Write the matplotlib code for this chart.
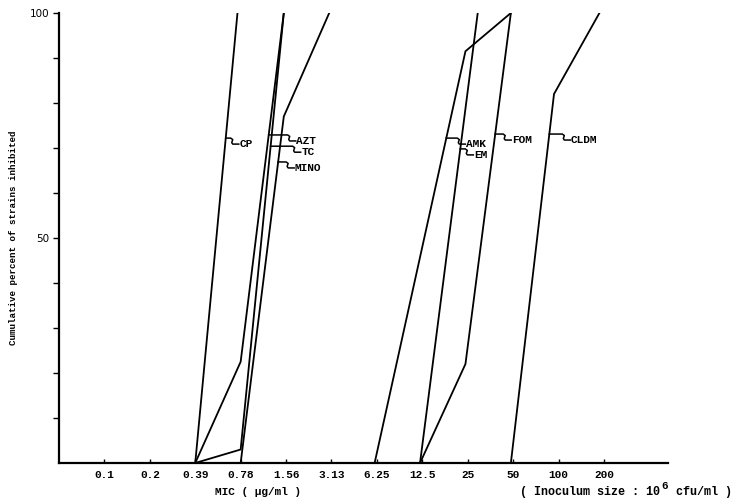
import numpy as np
import matplotlib
matplotlib.use("Agg")
import matplotlib.pyplot as plt

MONO = "Liberation Mono"

# MIC scale (two-fold dilutions), drawn at positions 1..12
conc_labels = ["0.1", "0.2", "0.39", "0.78", "1.56", "3.13",
               "6.25", "12.5", "25", "50", "100", "200"]
conc_pos = list(range(1, len(conc_labels) + 1))

# cumulative % of strains inhibited, x given as dilution position
cp_x = [3, 3.93]
cp_y = [0, 100]
azt_x = [3, 4, 4.95]
azt_y = [0, 22.5, 100]
tc_x = [3, 4, 4.95]
tc_y = [0, 3, 100]
mino_x = [4, 4.95, 5.95]
mino_y = [0, 77, 100]
amk_x = [6.95, 8.95, 9.95]
amk_y = [0, 91.5, 100]
em_x = [7.95, 9.22]
em_y = [0, 100]
fom_x = [7.95, 8.95, 9.95]
fom_y = [0, 22, 100]
cldm_x = [9.95, 10.9, 11.9]
cldm_y = [0, 82, 100]

W, H = 742, 504
fig = plt.figure(figsize=(W / 100, H / 100), dpi=100)
ax_l, ax_b, ax_w, ax_h = 59, 41, 609, 450
ax = fig.add_axes([ax_l / W, ax_b / H, ax_w / W, ax_h / H])
XMAX = 13.41
ax.set_xlim(0, XMAX)
ax.set_ylim(0, 100)

# px -> data conversion for the label leaders
kx = XMAX / ax_w
ky = 100 / ax_h

series = [
    (cp_x, cp_y, "CP", 72.2, 13),
    (azt_x, azt_y, "AZT", 72.9, 27),
    (tc_x, tc_y, "TC", 70.4, 30),
    (mino_x, mino_y, "MINO", 66.9, 16),
    (amk_x, amk_y, "AMK", 72.2, 19),
    (em_x, em_y, "EM", 69.8, 13),
    (fom_x, fom_y, "FOM", 73.1, 16),
    (cldm_x, cldm_y, "CLDM", 73.1, 21),
]

for xs, ys, name, y_at, dx_end in series:
    ax.plot(xs, ys, color="black", lw=1.3, solid_joinstyle="miter")
    x0 = np.interp(y_at, ys, xs)
    dx_mid = max(dx_end - 8, 4)
    drop = 6
    lx = [x0, x0 + dx_mid * kx, x0 + (dx_mid + 2) * kx,
          x0 + (dx_mid + 1) * kx, x0 + (dx_mid + 2) * kx, x0 + dx_end * kx]
    ly = [y_at, y_at, y_at - 1.5 * ky, y_at - 4.5 * ky,
          y_at - drop * ky, y_at - drop * ky]
    ax.plot(lx, ly, color="black", lw=1.1)
    ax.text(x0 + (dx_end + 0.5) * kx, y_at - drop * ky, name,
            family=MONO, fontweight="bold", fontsize=8,
            ha="left", va="center")

for s in ["top", "right"]:
    ax.spines[s].set_visible(False)
ax.spines["left"].set_linewidth(1.6)
ax.spines["bottom"].set_linewidth(1.6)

ax.set_xticks(conc_pos)
ax.set_xticklabels(conc_labels, family=MONO, fontweight="bold", fontsize=8)
ax.tick_params(axis="x", direction="in", length=3, width=1, pad=5)

yt = list(range(10, 101, 10))
ax.set_yticks(yt)
ax.set_yticklabels(["100" if v == 100 else "50" if v == 50 else "" for v in yt],
                   fontsize=7.5)
ax.tick_params(axis="y", direction="out", length=4, width=1, pad=3)

fig.text(258 / W, 1 - 492 / H, "MIC ( µg/ml )", family=MONO,
         fontweight="bold", fontsize=8, ha="center", va="center")

# inoculum note with a full-size raised exponent
renderer = fig.canvas.get_renderer()
ty = 1 - 492 / H
t1 = fig.text(520 / W, ty, "( Inoculum size : 10", family=MONO,
              fontweight="bold", fontsize=8.5, ha="left", va="center")
e1 = t1.get_window_extent(renderer)
t2 = fig.text((e1.x1 + 1) / W, ty + 6 / H, "6", family=MONO,
              fontweight="bold", fontsize=8, ha="left", va="center")
e2 = t2.get_window_extent(renderer)
fig.text((e2.x1 + 1) / W, ty, " cfu/ml )", family=MONO,
         fontweight="bold", fontsize=8.5, ha="left", va="center")

fig.text(14 / W, 1 - 238 / H, "Cumulative percent of strains inhibited",
         family=MONO, fontweight="bold", fontsize=6.6, rotation=90,
         ha="center", va="center")

fig.savefig("out.png", dpi=100, facecolor="white")
